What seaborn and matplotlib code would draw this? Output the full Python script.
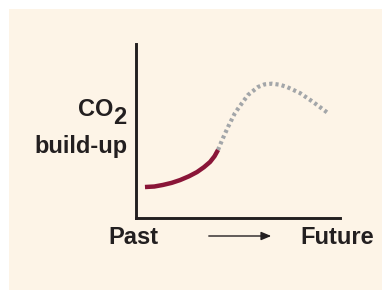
import numpy as np
import pandas as pd
import matplotlib.pyplot as plt
import seaborn as sns
from matplotlib.patches import Rectangle, FancyArrowPatch

# values (axis units 0-10 on both axes)
past_x = [0.44, 0.90, 1.32, 1.75, 2.16, 2.60, 2.99, 3.33, 3.63, 3.85, 4.02]
past_y = [1.78, 1.81, 1.90, 2.02, 2.18, 2.40, 2.64, 2.92, 3.22, 3.55, 3.91]
future_x = [4.02, 4.22, 4.51, 4.85, 5.20, 5.49, 5.98, 6.30, 6.67, 7.05, 7.40, 8.04, 8.68, 9.41]
future_y = [3.91, 4.48, 5.23, 6.03, 6.61, 7.07, 7.53, 7.68, 7.72, 7.66, 7.53, 7.18, 6.67, 6.03]

W, H = 382, 290

def fx(px):
    return px / W

def fy(py):
    return 1 - py / H

sns.set_style("white")
plt.rcParams['font.family'] = ['Liberation Sans', 'DejaVu Sans']

fig = plt.figure(figsize=(3.82, 2.90), dpi=100)
fig.patch.set_facecolor("white")
fig.patches.append(Rectangle((fx(9), 0), 1 - fx(9), fy(9), transform=fig.transFigure,
                             facecolor="#fdf4e7", edgecolor="none", zorder=-10))

ax = fig.add_axes([fx(136), fy(218), fx(340) - fx(136), fy(44) - fy(218)])
ax.set_facecolor("none")
ax.set_zorder(5)

past = pd.DataFrame({"x": past_x, "y": past_y})
future = pd.DataFrame({"x": future_x, "y": future_y})

sns.lineplot(data=future, x="x", y="y", ax=ax, color="#a3a6a9", lw=3.0,
             sort=False, estimator=None)
ax.lines[-1].set_linestyle((0, (0.75, 0.75)))
ax.lines[-1].set_dash_capstyle("butt")
sns.lineplot(data=past, x="x", y="y", ax=ax, color="#8a1538", lw=3.2,
             sort=False, estimator=None)
ax.lines[-1].set_solid_capstyle("butt")

ax.set_xlim(0, 10)
ax.set_ylim(0, 10)
ax.set_xticks([])
ax.set_yticks([])
ax.set_xlabel("")
ax.set_ylabel("")
for s in ["top", "right"]:
    ax.spines[s].set_visible(False)
for s in ["left", "bottom"]:
    ax.spines[s].set_visible(True)
    ax.spines[s].set_color("#231f20")
    ax.spines[s].set_linewidth(2.1)

txt = dict(fontsize=17, fontweight="bold", color="#231f20")
fig.text(fx(113), fy(110), "CO", ha="right", va="center", **txt)
fig.text(fx(113), fy(117), "2", ha="left", va="center", **txt)
fig.text(fx(128), fy(146), "build-up", ha="right", va="center", **txt)
fig.text(fx(108), fy(237), "Past", ha="left", va="center", **txt)
fig.text(fx(374), fy(237), "Future", ha="right", va="center", **txt)

fig.patches.append(FancyArrowPatch(
    (fx(206), fy(236)), (fx(274), fy(236)), transform=fig.transFigure,
    arrowstyle="-|>,head_length=6,head_width=2.5", color="#231f20", lw=1.0,
    mutation_scale=1))

fig.savefig("out.png", dpi=100)
